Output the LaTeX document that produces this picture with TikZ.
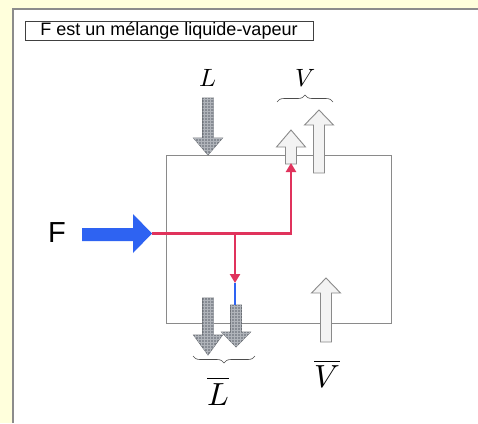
\documentclass[tikz,border=0pt]{standalone}
\usepackage{unicode-math}
\setsansfont{Liberation Sans}
\usetikzlibrary{arrows.meta,decorations.pathreplacing,patterns}
\definecolor{Page}{HTML}{FFFFDC}
\definecolor{Frame}{HTML}{8C8C8C}
\definecolor{Wall}{HTML}{8A8A8A}
\definecolor{Liquid}{HTML}{878C94}
\definecolor{LiquidGrid}{HTML}{B0B4BA}
\definecolor{Vapour}{HTML}{F3F3F3}
\definecolor{Feed}{HTML}{2E63F2}
\definecolor{Route}{HTML}{E0335C}
\tikzset{
  liquid/.style={draw=Liquid!80!black, line width=0.7pt, fill=Liquid,
                 postaction={pattern=grid, pattern color=LiquidGrid}},
  vapour/.style={draw=Wall, line width=0.9pt, fill=Vapour},
  route/.style={draw=Route, line width=2.6pt},
  routetip/.style={route, -{Triangle[length=9pt,width=10pt]}},
  sym/.style={font=\fontsize{25}{25}\selectfont, inner sep=0pt},
  bigsym/.style={font=\fontsize{32}{32}\selectfont, inner sep=0pt},
  brace/.style={decorate, decoration={brace, amplitude=7pt}, draw=black!70, line width=0.6pt},
}
% vertical block arrow: x, tail y, tip y, head base y, style
\newcommand\blockarrow[5]{%
  \draw[#5] (#1-5.5,#2) -- (#1+5.5,#2) -- (#1+5.5,#4) -- (#1+14.5,#4) -- (#1,#3)
    -- (#1-14.5,#4) -- (#1-5.5,#4) -- cycle;}
\begin{document}
\begin{tikzpicture}[x=1pt, y=-1pt]
  \useasboundingbox (0,0) rectangle (478,423);
  \fill[Page] (0,0) rectangle (478,423);
  \fill[white] (12,8) rectangle (478,423);
  \draw[Frame, line width=1.6pt] (12.8,423) -- (12.8,8.8) -- (478,8.8);

  \node[draw=black!75, line width=0.8pt, minimum width=288pt, minimum height=19pt,
        inner sep=0pt, font=\sffamily\fontsize{18}{18}\selectfont]
    (title) at (169,30.5) {F est un mélange liquide-vapeur};

  % the vessel
  \draw[Wall, line width=0.9pt] (166,155) rectangle (391,323);

  % streams
  \blockarrow{208}{98}{155}{138}{liquid}
  \blockarrow{291}{164}{130}{147}{vapour}
  \blockarrow{319}{173}{110}{125}{vapour}
  \blockarrow{208}{298}{355}{335}{liquid}
  \blockarrow{236}{305}{347}{332}{liquid}
  \blockarrow{326}{342}{278}{293}{vapour}
  \fill[Feed] (82,228) -- (133,228) -- (133,214) -- (152,233.5) -- (133,253)
    -- (133,241) -- (82,241) -- cycle;

  \node[sym] (lin) at (208,78) {$L$};
  \node[sym] (vout) at (305,78) {$V$};
  \node[bigsym] (lbar) at (218,391) {$\overline{L}$};
  \node[bigsym] (vbar) at (327,374) {$\overline{V}$};
  \node[font=\sffamily\fontsize{29}{29}\selectfont, inner sep=0pt] (flabel) at (57,233) {F};

  \draw[brace] (277,102) -- (333,102);
  \draw[brace] (255,356) -- (193,356);

  % where the feed goes
  \coordinate (feedtip) at (152,233.5);
  \coordinate (vapin) at (291,163);
  \coordinate (split) at (235,233.5);
  \coordinate (liqin) at (235,283);
  \coordinate (lbtop) at (235,305);
  \draw[Feed, line width=1.2pt] (liqin) -- (lbtop);
  \draw[routetip] (feedtip) -| (vapin);
  \draw[routetip] (split) -- (liqin);
\end{tikzpicture}
\end{document}
